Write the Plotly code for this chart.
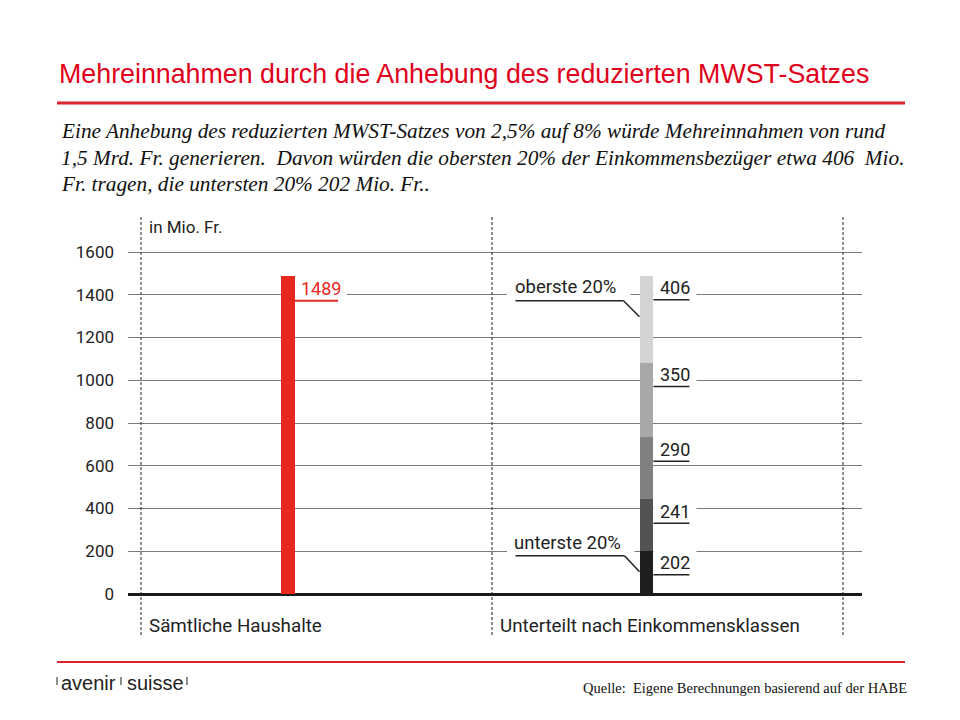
import plotly.graph_objects as go

# ---- data ----
categories = ["Sämtliche Haushalte", "Unterteilt nach Einkommensklassen"]
total_value = [1489]
quintile_names = ["unterste 20%", "2. Quintil", "3. Quintil", "4. Quintil", "oberste 20%"]
quintile_values = [202, 241, 290, 350, 406]
tick_values = [0, 200, 400, 600, 800, 1000, 1200, 1400, 1600]
tick_labels = ["0", "200", "400", "600", "800", "1000", "1200", "1400", "1600"]

title_text = "Mehreinnahmen durch die Anhebung des reduzierten MWST-Satzes"
intro_lines = [
    "Eine Anhebung des reduzierten MWST-Satzes von 2,5% auf 8% würde Mehreinnahmen von rund",
    "1,5 Mrd. Fr. generieren.  Davon würden die obersten 20% der Einkommensbezüger etwa 406  Mio.",
    "Fr. tragen, die untersten 20% 202 Mio. Fr..",
]
unit_label = "in Mio. Fr."
source_text = "Quelle:  Eigene Berechnungen basierend auf der HABE"

# ---- styling / layout constants ----
RED = "#e8281e"
TITLE_RED = "#e0001b"
LINE_RED = "#d9232d"
quintile_colors = ["#1e1e1e", "#525252", "#808080", "#a8a8a8", "#d3d3d3"]
DIN = "Roboto, 'DejaVu Sans Condensed', sans-serif"
bar_pos = [0.419, 1.44]   # positions of the two bars inside their category bands
separators = [0, 1, 2]
bar_width = 0.038

W, H = 960, 720
L, R, T, B = 128, 98, 216, 85
pw, ph = W - L - R, H - T - B

fig = go.Figure()
fig.add_trace(go.Bar(x=[bar_pos[0]], y=total_value, width=bar_width,
                     marker=dict(color=RED, line=dict(width=0)), showlegend=False,
                     hoverinfo="y"))
for name, v, c in zip(quintile_names, quintile_values, quintile_colors):
    fig.add_trace(go.Bar(x=[bar_pos[1]], y=[v], width=bar_width, name=name,
                         marker=dict(color=c, line=dict(width=0)), showlegend=False))

annotations = []
shapes = []


def gap_box(xa, ya, x0, x1, y0, y1):
    # white box that interrupts the gridlines behind a label
    return dict(type="rect", xref="x", yref="y", xsizemode="pixel", ysizemode="pixel",
                xanchor=xa, yanchor=ya, x0=x0, x1=x1, y0=y0, y1=y1,
                fillcolor="white", line=dict(width=0), layer="between")


def rel_line(xa, ya, x0, x1, y0, y1, color, width):
    return dict(type="line", xref="x", yref="y", xsizemode="pixel", ysizemode="pixel",
                xanchor=xa, yanchor=ya, x0=x0, x1=x1, y0=y0, y1=y1,
                line=dict(color=color, width=width), layer="above")


# value label + underline for total
annotations.append(dict(x=bar_pos[0], y=total_value[0], xref="x", yref="y",
                        text=str(total_value[0]), showarrow=False, xanchor="left",
                        yanchor="middle", xshift=11, yshift=-13,
                        font=dict(family=DIN, size=18, color=RED)))
shapes.append(gap_box(bar_pos[0], total_value[0], 7, 59, -23, 2))
shapes.append(rel_line(bar_pos[0], total_value[0], 6, 50, -25, -25, RED, 2))

# stacked labels
cum = 0
tops = []
for v in quintile_values:
    cum += v
    tops.append(cum)
    annotations.append(dict(x=bar_pos[1], y=cum, xref="x", yref="y", text=str(v),
                            showarrow=False, xanchor="left", yanchor="middle",
                            xshift=12, yshift=-12,
                            font=dict(family=DIN, size=18, color="#222")))
    shapes.append(gap_box(bar_pos[1], cum, 7, 50, -22, 2))
    shapes.append(rel_line(bar_pos[1], cum, 7, 43, -24, -24, "#222", 1.5))

# oberste / unterste callouts
for text, yval, xshift, yshift, ux1, uy, ey, bx1, by0, by1 in [
    (quintile_names[-1], tops[-1], -28.5, -11, -23, -25, -41, -16, -22, 0),
    (quintile_names[0], tops[0], -23, 8, -22, -5, -21, -12, -2.5, 18),
]:
    annotations.append(dict(x=bar_pos[1], y=yval, xref="x", yref="y", text=text,
                            showarrow=False, xanchor="right", yanchor="middle",
                            xshift=xshift, yshift=yshift,
                            font=dict(family=DIN, size=18.5, color="#222")))
    shapes.append(gap_box(bar_pos[1], yval, -139.5, bx1, by0, by1))
    shapes.append(rel_line(bar_pos[1], yval, -131, ux1, uy, uy, "#222", 1.5))
    shapes.append(rel_line(bar_pos[1], yval, ux1, -7, uy, ey, "#222", 1.5))

# dashed separators
for s in separators:
    shapes.append(dict(type="line", xref="x", yref="paper", x0=s, x1=s, y0=0, y1=1,
                       line=dict(color="#222", width=1, dash="3px,2px"), layer="above"))

# category labels
for s, cat in zip(separators[:2], categories):
    annotations.append(dict(x=s, y=0, xref="x", yref="paper", text=cat, showarrow=False,
                            xanchor="left", yanchor="middle", xshift=6, yshift=9,
                            font=dict(family=DIN, size=18.8, color="#222")))
annotations.append(dict(x=separators[0], y=1, xref="x", yref="paper", text=unit_label,
                        showarrow=False, xanchor="left", yanchor="middle", xshift=6, yshift=-11,
                        font=dict(family=DIN, size=17, color="#222")))


# header / footer, placed by page pixels
def px_note(x, y, text, font, xanchor="left"):
    return dict(xref="paper", yref="paper", x=(x - L) / pw, y=(H - B - y) / ph, text=text,
                showarrow=False, xanchor=xanchor, yanchor="middle", font=font)


SANS = "'Liberation Sans', Arial, sans-serif"
SERIF = "'Liberation Serif', 'Times New Roman', serif"
annotations.append(px_note(57, 74, title_text, dict(family=SANS, size=26.8, color=TITLE_RED)))
for i, line in enumerate(intro_lines):
    annotations.append(px_note(59, 131 + i * 26.5, "<i>" + line + "</i>",
                               dict(family=SERIF, size=21.3, color="#111")))
annotations.append(px_note(909, 688, source_text, dict(family=SERIF, size=14.5, color="#111"),
                           xanchor="right"))
annotations.append(px_note(59, 683, "avenir", dict(family=SANS, size=20, color="#222")))
annotations.append(px_note(125, 683, "suisse", dict(family=SANS, size=20, color="#222")))


def px_line(x0, y0, x1, y1, color, width):
    return dict(type="line", xref="paper", yref="paper",
                x0=(x0 - L) / pw, x1=(x1 - L) / pw,
                y0=(H - B - y0) / ph, y1=(H - B - y1) / ph,
                line=dict(color=color, width=width), layer="above")


shapes.append(px_line(57, 103, 905, 103, LINE_RED, 3))
shapes.append(px_line(57, 662, 905, 662, LINE_RED, 2))
for tx in [57, 121, 187]:
    shapes.append(px_line(tx, 677, tx, 685, "#444", 1.2))

fig.update_layout(
    width=W, height=H,
    margin=dict(l=L, r=R, t=T, b=B),
    paper_bgcolor="white", plot_bgcolor="white",
    barmode="stack", bargap=0,
    xaxis=dict(range=[-0.037, 2.054], showgrid=False, zeroline=False, showticklabels=False,
               showline=False, fixedrange=True),
    yaxis=dict(range=[-191.8, 1768.4], tickvals=tick_values, ticktext=tick_labels,
               showgrid=True, gridcolor="#7a7a7a", gridwidth=1,
               zeroline=True, zerolinecolor="#1a1a1a", zerolinewidth=3,
               showline=False, ticks="", ticklabelstandoff=13,
               tickfont=dict(family=DIN, size=17, color="#222")),
    annotations=annotations,
    shapes=shapes,
    showlegend=False,
)

fig.write_html("out.html")
